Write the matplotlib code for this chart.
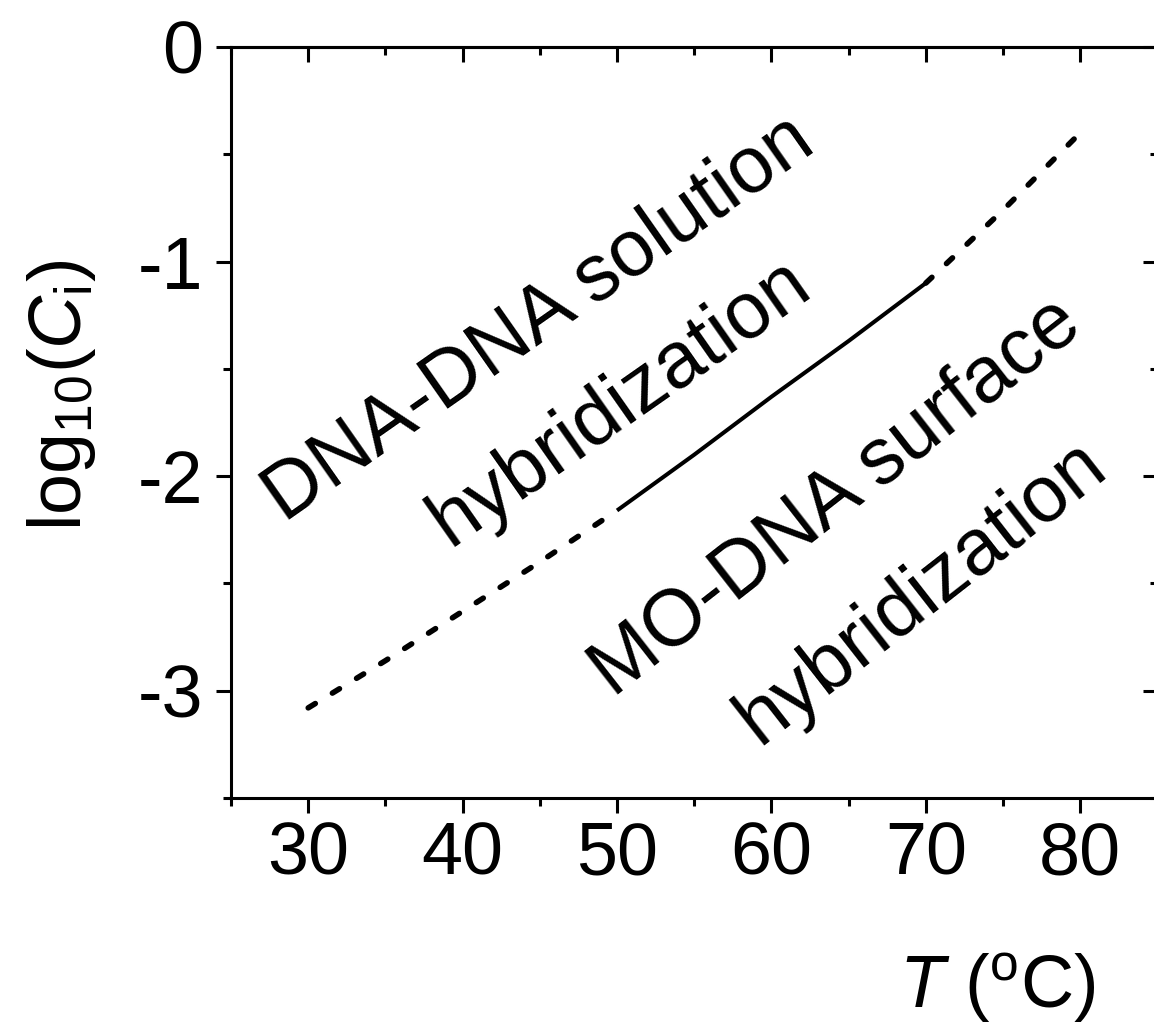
import numpy as np
import matplotlib
matplotlib.use("Agg")
import matplotlib.pyplot as plt

# hybridization threshold concentration vs temperature
temperature = np.array([30, 35, 40, 45, 50, 55, 60, 65, 70, 75, 80])
log_ci = np.array([-3.08, -2.86, -2.63, -2.40, -2.16, -1.90, -1.63, -1.37, -1.10, -0.76, -0.40])

x_ticks = [30, 40, 50, 60, 70, 80]
y_ticks = [0, -1, -2, -3]

labels = [
    # text, x, y, angle
    ("DNA-DNA solution", 45.0, -1.27, 35),
    ("hybridization", 50.2, -1.66, 35),
    ("MO-DNA surface", 64.2, -2.10, 38),
    ("hybridization", 69.7, -2.54, 38),
]

plt.rcParams["font.family"] = ["Liberation Sans", "DejaVu Sans"]
plt.rcParams["mathtext.fontset"] = "custom"
plt.rcParams["mathtext.rm"] = "Liberation Sans"
plt.rcParams["mathtext.it"] = "Liberation Sans:italic"
plt.rcParams["axes.unicode_minus"] = False

FS = 53
LW = 2.2       # spines / ticks
LW_SOLID = 2.9
LW_DASH = 4.0
DASH = (0, (1.5, 3.6))

fig = plt.figure(figsize=(11.54, 10.25), dpi=100)
ax = fig.add_axes([231 / 1154, 227 / 1025, 926.5 / 1154, 751 / 1025])

solid = (temperature >= 50) & (temperature <= 70)
low = temperature <= 50
high = temperature >= 70
ax.plot(temperature[low], log_ci[low], color="black", lw=LW_DASH, ls=DASH, dash_capstyle="round")
ax.plot(temperature[solid], log_ci[solid], color="black", lw=LW_SOLID, solid_capstyle="butt")
ax.plot(temperature[high], log_ci[high], color="black", lw=LW_DASH, ls=DASH, dash_capstyle="round")

for text, x, y, ang in labels:
    ax.text(x, y, text, fontsize=57, rotation=ang, rotation_mode="anchor",
            ha="center", va="center")

ax.set_xlim(25, 85)
ax.set_ylim(-3.5, 0)
ax.set_xticks(x_ticks)
ax.set_yticks(y_ticks)
ax.set_xticks(np.arange(25, 86, 5), minor=True)
ax.set_yticks(np.arange(-3.5, 0.01, 0.5), minor=True)
ax.set_xticklabels([str(t) for t in x_ticks])
ax.set_yticklabels([str(t) for t in y_ticks])

for side in ["left", "bottom", "top", "right"]:
    ax.spines[side].set_linewidth(LW)

ax.tick_params(axis="both", which="major", labelsize=FS, length=11, width=LW)
ax.tick_params(axis="both", which="minor", length=6, width=LW)
ax.tick_params(axis="x", which="both", direction="out", top=False)
ax.tick_params(axis="y", which="both", direction="out", right=False)
ax.tick_params(axis="x", which="major", pad=5)
ax.tick_params(axis="y", which="major", pad=9)

# inward ticks on top and right
top = ax.secondary_xaxis("top")
top.set_xticks(x_ticks)
top.set_xticks(np.arange(25, 86, 5), minor=True)
top.tick_params(which="both", direction="in", labeltop=False, width=LW)
top.tick_params(which="major", length=11)
top.tick_params(which="minor", length=6)
top.spines["top"].set_linewidth(LW)

right = ax.secondary_yaxis("right")
right.set_yticks(y_ticks)
right.set_yticks(np.arange(-3.5, 0.01, 0.5), minor=True)
right.tick_params(which="both", direction="in", labelright=False, width=LW)
right.tick_params(which="major", length=11)
right.tick_params(which="minor", length=6)

fig.text(62 / 1154, 1 - 395 / 1025, r"log$_{10}$($C_{\rm i}$)", fontsize=FS,
         rotation=90, ha="center", va="center")
fig.text(997 / 1154, 1 - 1008 / 1025, r"$T$ ($^{\rm o}$C)", fontsize=FS,
         ha="center", va="baseline")

fig.savefig("out.png", dpi=100)
